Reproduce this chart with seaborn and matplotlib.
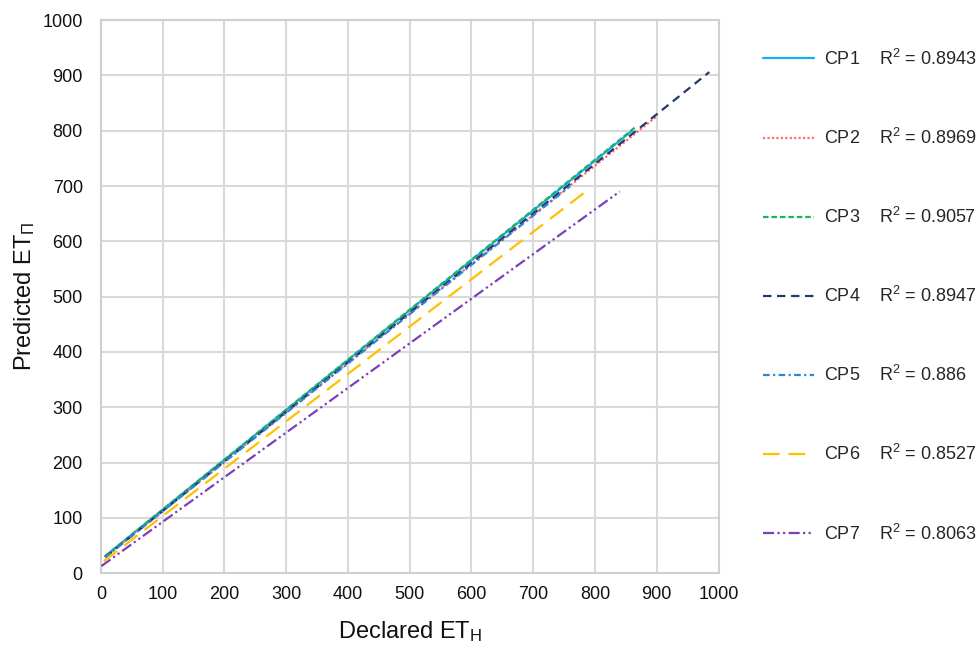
import numpy as np
import pandas as pd
import seaborn as sns
from matplotlib import pyplot as plt
from matplotlib.lines import Line2D

# trend lines: start / end of each fitted line
series = ['CP1', 'CP2', 'CP3', 'CP4', 'CP5', 'CP6', 'CP7']
r2 = ['0.8943', '0.8969', '0.9057', '0.8947', '0.886', '0.8527', '0.8063']
x_start = [7, 7, 7, 7, 7, 5, 1]
x_end = [860, 900, 867, 985, 760, 785, 840]
y_start = [31, 30, 31, 29, 29, 22, 13]
y_end = [800, 826, 808, 906, 700, 690, 690]

colors = ['#12aef0', '#ff6b6b', '#1fb25a', '#22386e', '#2d86d6', '#ffc000', '#7c3fb8']
dashes = ['-', (0, (1, 1)), (0, (2.5, 1.3)), (0, (3.8, 2.5)), (0, (3, 1.5, 1, 1.5)),
          (0, (7.5, 4)), (0, (5, 1.5, 1, 1.5, 1, 1.5))]

rows = []
for name, xs, xe, ys, ye in zip(series, x_start, x_end, y_start, y_end):
    rows.append((name, xs, ys))
    rows.append((name, xe, ye))
data = pd.DataFrame(rows, columns=['series', 'declared', 'predicted'])

sns.set_theme(style='whitegrid')
plt.rcParams['font.family'] = ['Liberation Sans', 'DejaVu Sans']
plt.rcParams['mathtext.fontset'] = 'custom'
plt.rcParams['mathtext.rm'] = 'Liberation Sans'
plt.rcParams['mathtext.it'] = 'Liberation Sans'

fig = plt.figure(figsize=(9.79, 6.47), dpi=100)
ax = fig.add_axes([0.103, 0.114, 0.631, 0.855])

for name, c, d in zip(series, colors, dashes):
    sub = data[data['series'] == name]
    sns.lineplot(data=sub, x='declared', y='predicted', ax=ax, color=c,
                 linewidth=1.6, linestyle=d, legend=False, zorder=3)

ax.set_xlim(0, 1000)
ax.set_ylim(0, 1000)
ax.set_xticks(range(0, 1001, 100))
ax.set_yticks(range(0, 1001, 100))
ax.grid(color='#d9d9d9', linewidth=1.5)
for s in ax.spines.values():
    s.set_color('#d0d0d0')
    s.set_linewidth(1.5)
ax.tick_params(labelsize=13, colors='#111111', length=0)
ax.tick_params(axis='x', pad=9)
ax.tick_params(axis='y', pad=13)
ax.set_xlabel('Declared ET$_{\\mathrm{Н}}$', fontsize=17, color='#111111')
ax.set_ylabel('Predicted ET$_{\\mathrm{П}}$', fontsize=17, color='#111111')
ax.xaxis.set_label_coords(0.5, -0.083)
ax.yaxis.set_label_coords(-0.104, 0.5)

handles = [Line2D([], [], color=c, linestyle=d, linewidth=1.6) for c, d in zip(colors, dashes)]
labels = [f'{n}    R$^2$ = {v}' for n, v in zip(series, r2)]
fig.legend(handles, labels, loc='upper left', bbox_to_anchor=(0.772, 0.936),
           frameon=False, fontsize=13, handlelength=2.8, handletextpad=0.6,
           labelspacing=3.27, borderaxespad=0)

fig.savefig('out.png', dpi=100)
